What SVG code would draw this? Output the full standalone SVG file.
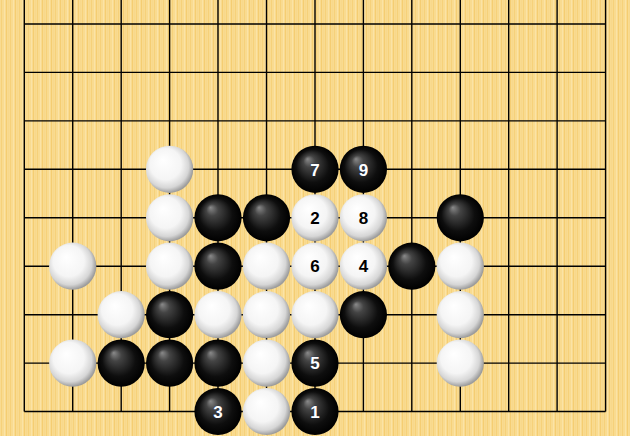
<svg xmlns="http://www.w3.org/2000/svg" width="630" height="436" viewBox="0 0 630 436">
<defs>
<pattern id="wood" width="9" height="436" patternUnits="userSpaceOnUse">
<rect width="9" height="436" fill="#F9DB90"/>
<rect x="1" width="1" height="436" fill="#F6D17A"/>
<rect x="4" width="1" height="436" fill="#FBE3A6"/>
<rect x="6" width="1" height="436" fill="#F5CD72"/>
<rect x="8" width="0.6" height="436" fill="#F8D787"/>
</pattern>
<radialGradient id="gb" cx="0.5" cy="0.5" r="0.5" fx="0.34" fy="0.28">
<stop offset="0" stop-color="#8a8a8a"/>
<stop offset="0.25" stop-color="#444"/>
<stop offset="0.7" stop-color="#0e0e0e"/>
<stop offset="1" stop-color="#000"/>
</radialGradient>
<radialGradient id="gw" cx="0.45" cy="0.45" r="0.55" fx="0.36" fy="0.3">
<stop offset="0" stop-color="#ffffff"/>
<stop offset="0.6" stop-color="#f5f5f5"/>
<stop offset="0.85" stop-color="#d6d6d6"/>
<stop offset="1" stop-color="#9c9c9c"/>
</radialGradient>
<style>
.grid line{stroke:#000;stroke-width:1.4}
.b{fill:url(#gb)}
.w{fill:url(#gw)}
.t{font-family:"Liberation Sans",Arial,sans-serif;font-weight:bold;font-size:17px;text-anchor:middle}
.tb{fill:#fff;stroke:#1a2a50;stroke-width:0.6;paint-order:stroke}
.tw{fill:#000}
</style>
</defs>
<rect width="630" height="436" fill="url(#wood)"/>
<g id="grid" class="grid">
<line x1="24.3" y1="0" x2="24.3" y2="411.5"/>
<line x1="72.7" y1="0" x2="72.7" y2="411.5"/>
<line x1="121.2" y1="0" x2="121.2" y2="411.5"/>
<line x1="169.6" y1="0" x2="169.6" y2="411.5"/>
<line x1="218" y1="0" x2="218" y2="411.5"/>
<line x1="266.5" y1="0" x2="266.5" y2="411.5"/>
<line x1="315" y1="0" x2="315" y2="411.5"/>
<line x1="363.4" y1="0" x2="363.4" y2="411.5"/>
<line x1="411.8" y1="0" x2="411.8" y2="411.5"/>
<line x1="460.3" y1="0" x2="460.3" y2="411.5"/>
<line x1="508.7" y1="0" x2="508.7" y2="411.5"/>
<line x1="557.1" y1="0" x2="557.1" y2="411.5"/>
<line x1="605.6" y1="0" x2="605.6" y2="411.5"/>
<line x1="24.3" y1="24" x2="605.6" y2="24"/>
<line x1="24.3" y1="72.4" x2="605.6" y2="72.4"/>
<line x1="24.3" y1="120.9" x2="605.6" y2="120.9"/>
<line x1="24.3" y1="169.3" x2="605.6" y2="169.3"/>
<line x1="24.3" y1="217.8" x2="605.6" y2="217.8"/>
<line x1="24.3" y1="266.2" x2="605.6" y2="266.2"/>
<line x1="24.3" y1="314.7" x2="605.6" y2="314.7"/>
<line x1="24.3" y1="363.1" x2="605.6" y2="363.1"/>
<line x1="24.3" y1="411.5" x2="605.6" y2="411.5"/>
</g>
<g id="stones">
<g id="w-c3r3"><circle class="w" cx="169.6" cy="169.3" r="23.6"/></g>
<g id="b7"><circle class="b" cx="315" cy="169.3" r="23.6"/><text class="t tb" x="315" y="175.5">7</text></g>
<g id="b9"><circle class="b" cx="363.4" cy="169.3" r="23.6"/><text class="t tb" x="363.4" y="175.5">9</text></g>

<g id="w-c3r4"><circle class="w" cx="169.6" cy="217.8" r="23.6"/></g>
<g id="b-c4r4"><circle class="b" cx="218" cy="217.8" r="23.6"/></g>
<g id="b-c5r4"><circle class="b" cx="266.5" cy="217.8" r="23.6"/></g>
<g id="w2"><circle class="w" cx="315" cy="217.8" r="23.6"/><text class="t tw" x="315" y="224">2</text></g>
<g id="w8"><circle class="w" cx="363.4" cy="217.8" r="23.6"/><text class="t tw" x="363.4" y="224">8</text></g>
<g id="b-c9r4"><circle class="b" cx="460.3" cy="217.8" r="23.6"/></g>

<g id="w-c1r5"><circle class="w" cx="72.7" cy="266.2" r="23.6"/></g>
<g id="w-c3r5"><circle class="w" cx="169.6" cy="266.2" r="23.6"/></g>
<g id="b-c4r5"><circle class="b" cx="218" cy="266.2" r="23.6"/></g>
<g id="w-c5r5"><circle class="w" cx="266.5" cy="266.2" r="23.6"/></g>
<g id="w6"><circle class="w" cx="315" cy="266.2" r="23.6"/><text class="t tw" x="315" y="272.4">6</text></g>
<g id="w4"><circle class="w" cx="363.4" cy="266.2" r="23.6"/><text class="t tw" x="363.4" y="272.4">4</text></g>
<g id="b-c8r5"><circle class="b" cx="411.8" cy="266.2" r="23.6"/></g>
<g id="w-c9r5"><circle class="w" cx="460.3" cy="266.2" r="23.6"/></g>

<g id="w-c2r6"><circle class="w" cx="121.2" cy="314.7" r="23.6"/></g>
<g id="b-c3r6"><circle class="b" cx="169.6" cy="314.7" r="23.6"/></g>
<g id="w-c4r6"><circle class="w" cx="218" cy="314.7" r="23.6"/></g>
<g id="w-c5r6"><circle class="w" cx="266.5" cy="314.7" r="23.6"/></g>
<g id="w-c6r6"><circle class="w" cx="315" cy="314.7" r="23.6"/></g>
<g id="b-c7r6"><circle class="b" cx="363.4" cy="314.7" r="23.6"/></g>
<g id="w-c9r6"><circle class="w" cx="460.3" cy="314.7" r="23.6"/></g>

<g id="w-c1r7"><circle class="w" cx="72.7" cy="363.1" r="23.6"/></g>
<g id="b-c2r7"><circle class="b" cx="121.2" cy="363.1" r="23.6"/></g>
<g id="b-c3r7"><circle class="b" cx="169.6" cy="363.1" r="23.6"/></g>
<g id="b-c4r7"><circle class="b" cx="218" cy="363.1" r="23.6"/></g>
<g id="w-c5r7"><circle class="w" cx="266.5" cy="363.1" r="23.6"/></g>
<g id="b5"><circle class="b" cx="315" cy="363.1" r="23.6"/><text class="t tb" x="315" y="369.3">5</text></g>
<g id="w-c9r7"><circle class="w" cx="460.3" cy="363.1" r="23.6"/></g>

<g id="b3"><circle class="b" cx="218" cy="411.5" r="23.6"/><text class="t tb" x="218" y="417.7">3</text></g>
<g id="w-c5r8"><circle class="w" cx="266.5" cy="411.5" r="23.6"/></g>
<g id="b1"><circle class="b" cx="315" cy="411.5" r="23.6"/><text class="t tb" x="315" y="417.7">1</text></g>
</g>
</svg>
